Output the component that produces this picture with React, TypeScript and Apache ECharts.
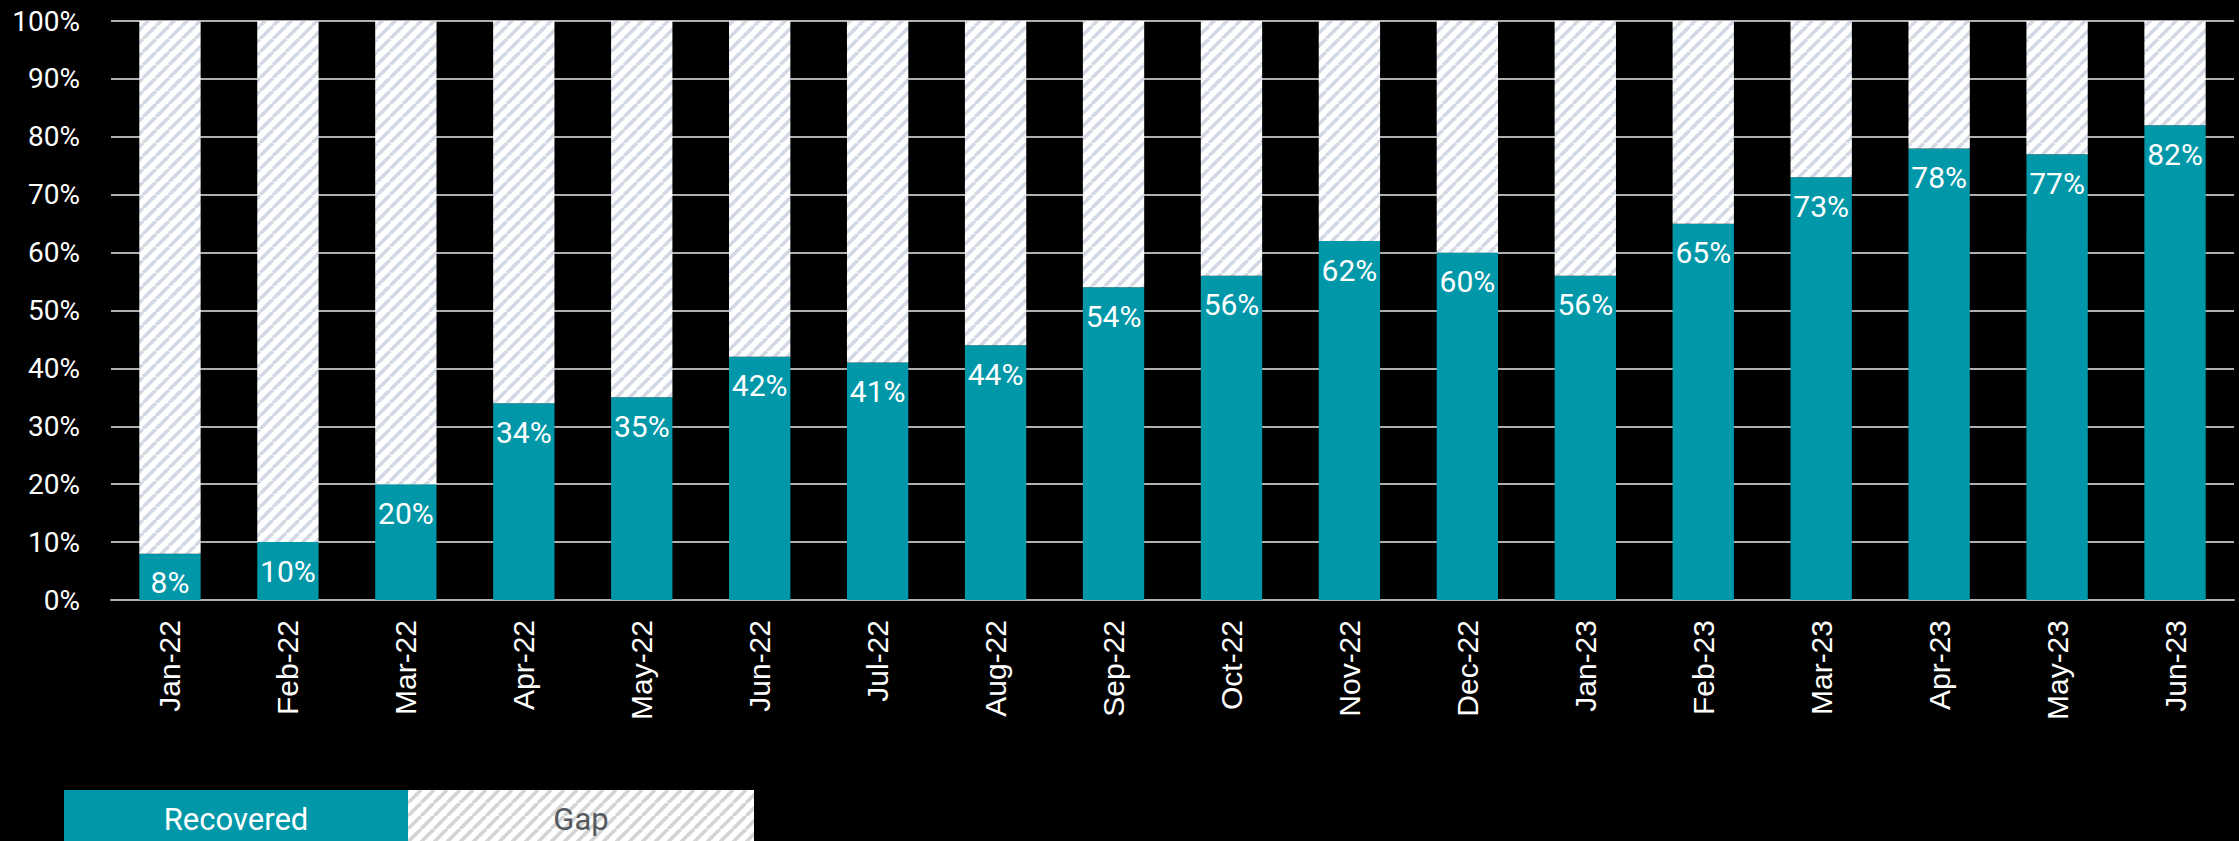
import React, { useEffect, useRef } from "react";
import * as echarts from "echarts";

const categories = [
  "Jan-22", "Feb-22", "Mar-22", "Apr-22", "May-22", "Jun-22", "Jul-22", "Aug-22", "Sep-22",
  "Oct-22", "Nov-22", "Dec-22", "Jan-23", "Feb-23", "Mar-23", "Apr-23", "May-23", "Jun-23",
];
const recovered = [8, 10, 20, 34, 35, 42, 41, 44, 54, 56, 62, 60, 56, 65, 73, 78, 77, 82];
const gap = recovered.map((v) => 100 - v);
const yTicks = [0, 10, 20, 30, 40, 50, 60, 70, 80, 90, 100];
const legendNames = ["Recovered", "Gap"];

const TEAL = "#0098a9";

function makeHatch(stripe: string, size: number, lw: number) {
  const c = document.createElement("canvas");
  c.width = size;
  c.height = size;
  const ctx = c.getContext("2d")!;
  ctx.fillStyle = "#ffffff";
  ctx.fillRect(0, 0, size, size);
  ctx.strokeStyle = stripe;
  ctx.lineWidth = lw;
  ctx.beginPath();
  for (let k = -1; k <= 1; k++) {
    ctx.moveTo(k * size, size);
    ctx.lineTo(k * size + size, 0);
  }
  ctx.stroke();
  return { image: c, repeat: "repeat" as const };
}

export default function App() {
  const ref = useRef<HTMLDivElement>(null);
  useEffect(() => {
    document.body.style.margin = "0";
    document.body.style.background = "#000";
    const chart = echarts.init(ref.current!, null, { renderer: "svg" });
    const barHatch = makeHatch("#d2d9e4", 13, 3.6);
    const legendHatch = makeHatch("#d4d4d4", 13, 3.6);
    chart.setOption({
      animation: false,
      backgroundColor: "#000000",
      grid: { left: 111, right: 5, top: 21, bottom: 241 },
      xAxis: {
        type: "category",
        data: categories,
        axisLine: { lineStyle: { color: "#b0b0b0", width: 2 } },
        axisTick: { show: false },
        axisLabel: {
          rotate: 90,
          color: "#ffffff",
          fontFamily: "Liberation Sans",
          fontSize: 30,
          margin: 20,
        },
      },
      yAxis: {
        type: "value",
        min: yTicks[0],
        max: yTicks[yTicks.length - 1],
        interval: 10,
        axisLine: { show: false },
        axisTick: { show: false },
        splitLine: { lineStyle: { color: "#b0b0b0", width: 2 } },
        axisLabel: {
          formatter: "{value}%",
          color: "#ffffff",
          fontFamily: "Roboto",
          fontSize: 28,
          margin: 31,
        },
      },
      series: [
        {
          name: legendNames[0],
          type: "bar",
          stack: "total",
          data: recovered,
          barWidth: "52%",
          itemStyle: { color: TEAL },
          label: {
            show: true,
            position: "insideTop",
            distance: 14,
            formatter: "{c}%",
            color: "#ffffff",
            fontFamily: "Roboto",
            fontSize: 30,
          },
        },
        {
          name: legendNames[1],
          type: "bar",
          stack: "total",
          data: gap,
          barWidth: "52%",
          itemStyle: { color: barHatch as any },
        },
      ],
      graphic: [
        {
          type: "rect",
          left: 64,
          top: 790,
          shape: { width: 344, height: 60 },
          style: { fill: TEAL },
        },
        {
          type: "rect",
          left: 408,
          top: 790,
          shape: { width: 346, height: 60 },
          style: { fill: legendHatch as any },
        },
        {
          type: "text",
          x: 236,
          y: 819,
          style: {
            text: legendNames[0],
            fill: "#ffffff",
            font: "31px Roboto",
            textAlign: "center",
            textVerticalAlign: "middle",
          },
        },
        {
          type: "text",
          x: 581,
          y: 819,
          style: {
            text: legendNames[1],
            fill: "#555a60",
            font: "31px Roboto",
            textAlign: "center",
            textVerticalAlign: "middle",
          },
        },
      ],
    });
    return () => chart.dispose();
  }, []);
  return <div ref={ref} style={{ width: 2239, height: 841 }} />;
}
